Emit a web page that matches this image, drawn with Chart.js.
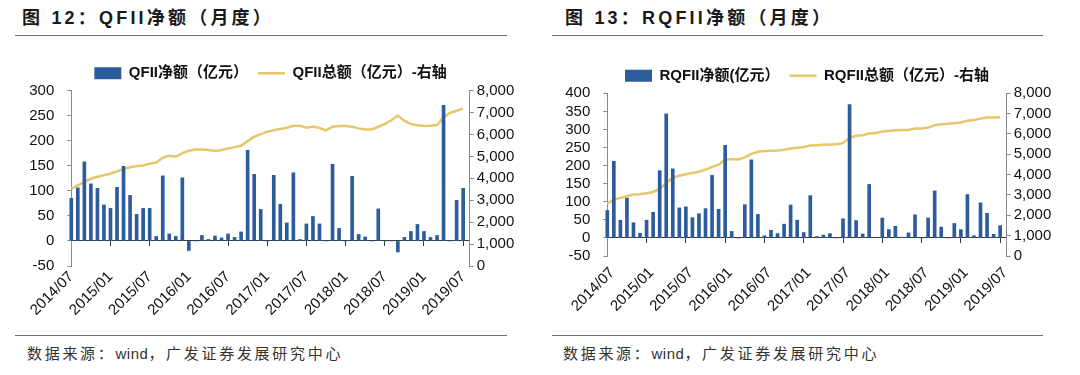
<!DOCTYPE html>
<html><head><meta charset="utf-8">
<script src="https://cdn.jsdelivr.net/npm/chart.js@4.4.1/dist/chart.umd.min.js"></script>
<style>
html,body{margin:0;padding:0;background:#fff;width:1080px;height:375px;overflow:hidden;position:relative;font-family:'Liberation Sans','Noto Sans CJK SC',sans-serif;}
.title{position:absolute;top:5px;font-size:18px;font-weight:bold;line-height:26px;color:#1a1a1a;letter-spacing:3.2px;white-space:nowrap;}
.rule{position:absolute;height:0;border-top:1.5px solid #707070;}
.src{position:absolute;top:341px;font-size:15px;line-height:24px;color:#333;letter-spacing:2.7px;white-space:nowrap;font-family:'Noto Sans CJK SC',sans-serif;}
.src span{letter-spacing:0.5px;font-family:'Liberation Sans',sans-serif;}
canvas{position:absolute;}
</style></head>
<body>
<div class="title" style="left:22px">图 12：QFII净额（月度）</div>
<div class="rule" style="left:15px;top:35px;width:492px"></div>
<div class="title" style="left:565px">图 13：RQFII净额（月度）</div>
<div class="rule" style="left:552px;top:35px;width:491px"></div>
<canvas id="c1" width="540" height="286" style="left:0;top:40px"></canvas>
<canvas id="c2" width="540" height="276" style="left:540px;top:40px"></canvas>
<div class="rule" style="left:15px;top:335px;width:492px"></div>
<div class="rule" style="left:552px;top:335px;width:491px"></div>
<div class="src" style="left:27px">数据来源：<span>wind</span>，广发证券发展研究中心</div>
<div class="src" style="left:563px">数据来源：<span>wind</span>，广发证券发展研究中心</div>
<script>
const months = ['2014/07','2014/08','2014/09','2014/10','2014/11','2014/12',
'2015/01','2015/02','2015/03','2015/04','2015/05','2015/06','2015/07','2015/08','2015/09','2015/10','2015/11','2015/12',
'2016/01','2016/02','2016/03','2016/04','2016/05','2016/06','2016/07','2016/08','2016/09','2016/10','2016/11','2016/12',
'2017/01','2017/02','2017/03','2017/04','2017/05','2017/06','2017/07','2017/08','2017/09','2017/10','2017/11','2017/12',
'2018/01','2018/02','2018/03','2018/04','2018/05','2018/06','2018/07','2018/08','2018/09','2018/10','2018/11','2018/12',
'2019/01','2019/02','2019/03','2019/04','2019/05','2019/06','2019/07','2019/08'];
const shownMonths = ['2014/07','2015/01','2015/07','2016/01','2016/07','2017/01','2017/07','2018/01','2018/07','2019/01','2019/07'];

const qfiiNet = [85,106,158,114,105,72,
65,107,149,91,53,65,65,9,130,14,9,126,
-19,0,11,3,10,6,14,7,18,181,133,63,
0,131,73,36,136,3,34,49,34,0,153,25,
0,129,13,8,0,64,0,0,-22,7,19,33,
19,7,11,271,0,81,105,null];
const qfiiTotal = [3520,3675,3840,3980,4070,4145,
4220,4315,4435,4510,4560,4590,4665,4725,4940,5030,4985,5150,
5260,5320,5320,5290,5245,5290,5365,5425,5485,5700,5900,6020,
6125,6200,6250,6310,6400,6400,6310,6370,6295,6190,6355,6385,
6385,6355,6280,6235,6235,6355,6490,6650,6870,6630,6480,6420,
6385,6400,6430,6780,6995,7085,7180,null];
const rqfiiNet = [76,212,49,110,42,13,
49,71,186,343,191,83,86,56,67,81,173,79,
256,18,0,92,216,65,6,21,12,38,91,49,
15,117,4,8,12,0,53,369,48,11,148,2,
55,23,32,2,14,64,0,55,130,30,0,40,
23,120,6,97,68,10,34,null];
const rqfiiTotal = [2580,2775,2860,2940,3020,3035,
3085,3150,3300,3590,3850,3950,4015,4080,4145,4245,4375,4490,
4735,4765,4750,4845,5025,5125,5160,5175,5190,5220,5285,5320,
5355,5435,5450,5465,5480,5500,5550,5810,5910,5940,6020,6050,
6120,6150,6180,6195,6195,6265,6265,6315,6430,6480,6500,6530,
6560,6655,6690,6755,6805,6805,6820,null];

const BAR = '#2D5C9C', LINE = '#E6C76B', AXIS = '#8a8a8a', AXIS0 = '#3a3a3a';
const FONT = "'Liberation Sans','Noto Sans CJK SC',sans-serif";

function build(id, net, total, netLabel, totalLabel, yMin, yMax, pad, xPad, labelOffset) {
  new Chart(document.getElementById(id), {
    data: {
      labels: months,
      datasets: [
        {type:'bar', label:netLabel, data:net, backgroundColor:BAR, borderWidth:0, barThickness:3,
         xAxisID:'x', yAxisID:'y', order:0, pointStyle:'rect', clip:false},
        {type:'line', label:totalLabel, data:total, borderColor:LINE, backgroundColor:LINE, borderWidth:2.5,
         pointRadius:0, tension:0, xAxisID:'x', yAxisID:'y1', order:1, pointStyle:'line'}
      ]
    },
    options: {
      responsive:false, animation:false,
      layout:{padding:pad},
      plugins:{
        legend:{display:true, position:'top',
          labels:{usePointStyle:true, pointStyleWidth:27, boxHeight:12, padding:10, color:'#111',
                  font:{size:15, weight:'bold', family:FONT}}},
        tooltip:{enabled:false}
      },
      scales:{
        x:{type:'category', position:'bottom', offset:false,
           grid:{display:false, drawTicks:false}, border:{display:false},
           ticks:{autoSkip:false, maxRotation:45, minRotation:45, padding:xPad, labelOffset:labelOffset,
                  color:'#111', font:{size:15, family:FONT},
                  callback(v){ const l = this.getLabelForValue(v); return shownMonths.includes(l) ? l : null; }},
           afterFit(s){ s.height = 60; }},
        x0:{type:'category', position:{y:0}, offset:false,
            grid:{drawOnChartArea:false, drawTicks:true, tickLength:5, lineWidth:1,
                  color:c => shownMonths.includes(months[c.index]) ? AXIS0 : 'rgba(0,0,0,0)'},
            border:{display:true, color:AXIS0, width:1},
            ticks:{display:false, autoSkip:false}},
        y:{position:'left', min:yMin, max:yMax,
           grid:{drawOnChartArea:false, tickLength:4, color:AXIS}, border:{color:AXIS, width:1},
           ticks:{stepSize:50, autoSkip:false, padding:13, color:'#111', font:{size:15, family:FONT}},
           afterFit(s){ s.width = 50; }},
        y1:{position:'right', min:0, max:8000,
            grid:{drawOnChartArea:false, tickLength:4, color:AXIS}, border:{color:AXIS, width:1},
            ticks:{stepSize:1000, autoSkip:false, padding:3, color:'#111', font:{size:15, family:FONT},
                   callback:v => v.toLocaleString('en-US')},
            afterFit(s){ s.width = 50; }}
      }
    }
  });
}

build('c1', qfiiNet, qfiiTotal, 'QFII净额（亿元）', 'QFII总额（亿元）-右轴', -50, 300,
      {left:21.3, right:20.3, top:15.7, bottom:0}, 2, 0);
build('c2', rqfiiNet, rqfiiTotal, 'RQFII净额(亿元）', 'RQFII总额（亿元）-右轴', -50, 400,
      {left:17.3, right:23.3, top:18.3, bottom:0}, 8, 5);
</script>
</body></html>
